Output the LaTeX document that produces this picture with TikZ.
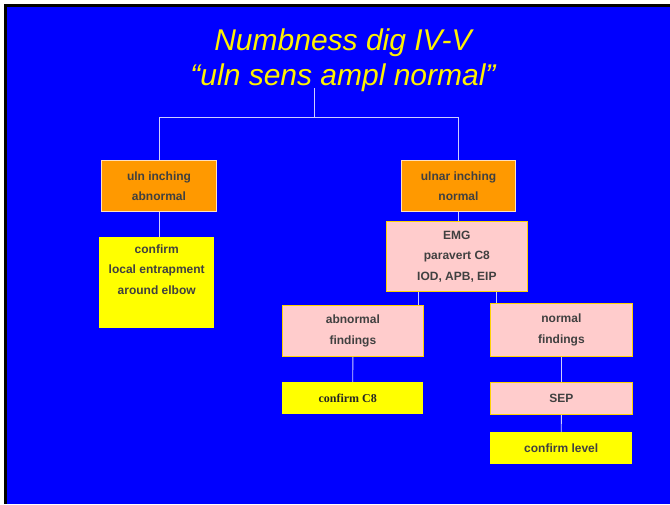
\documentclass[tikz,border=0pt]{standalone}
\usepackage{fontspec}
\setmainfont{Liberation Sans}
\newfontfamily\timesfont{Liberation Serif}
\usepackage{tikz}
\usetikzlibrary{calc}
\definecolor{slideblue}{RGB}{0,0,255}
\definecolor{boxorange}{RGB}{255,153,0}
\definecolor{boxpink}{RGB}{255,204,204}
\definecolor{boxyellow}{RGB}{255,255,0}
\definecolor{boxtext}{RGB}{64,64,64}
\definecolor{wirecol}{RGB}{205,205,255}

\begin{document}
\begin{tikzpicture}[x=1pt,y=-1pt,
    box/.style={anchor=north west, inner sep=0pt, align=center, text=boxtext,
      font=\fontsize{12}{20.5}\selectfont\bfseries},
    orangebox/.style={box, fill=boxorange, draw=orange!25!white, line width=1pt},
    pinkbox/.style={box, fill=boxpink, draw=yellow!70!orange, line width=.8pt},
    yellowbox/.style={box, fill=boxyellow},
    wire/.style={draw=wirecol, line width=.9pt}]
            \useasboundingbox (0,0) rectangle (670,504);
            \fill[white] (0,0) rectangle (670,504); %slide margin
            \fill[slideblue] (4,4) rectangle (670,504);
            \fill[black] (4,4) rectangle (670,7); %slide edge
            \fill[black] (4,4) rectangle (7,504);

            % title
            \node[align=center, text=yellow, font=\fontsize{30}{35}\selectfont\itshape] (title) at (343,60)
              {Numbness dig IV-V\\``uln sens ampl normal''};
            \coordinate (top) at (314,88);
            \coordinate (split) at (314,117);

            % first level
            \node[orangebox, minimum width=115pt, minimum height=51pt] (inchab) at (101,160) {uln inching\\abnormal};
            \node[orangebox, minimum width=114pt, minimum height=51pt] (inchno) at (401,160) {ulnar inching\\normal};

            % second level
            \node[yellowbox, minimum width=115pt, minimum height=91pt] (elbow) at (99,237)
              {confirm\\local entrapment\\around elbow\\\strut};
            \node[pinkbox, minimum width=141pt, minimum height=70pt] (emg) at (386,221)
              {EMG\\paravert C8\\IOD, APB, EIP};

            % third level
            \node[pinkbox, minimum width=141pt, minimum height=51pt] (abfind) at (282,305) {abnormal\\findings};
            \node[pinkbox, minimum width=142pt, minimum height=53pt] (nofind) at (490,303) {normal\\findings};

            % fourth level
            \node[yellowbox, minimum width=141pt, minimum height=32pt, font=\fontsize{12}{14}\selectfont\timesfont\bfseries, text=black!85]
              (cfc) at (282,382) {confirm C8\hspace{10pt}};
            \node[pinkbox, minimum width=142pt, minimum height=32pt] (sep) at (490,382) {SEP};
            \node[yellowbox, minimum width=142pt, minimum height=32pt] (cflevel) at (490,432) {confirm level};

            % connectors
            \draw[wire] (top) -- (split);
            \draw[wire] (inchab.north) -- (inchab.north |- split) -- (inchno.north |- split) -- (inchno.north);
            \draw[wire] (inchab.south) -- (inchab.south |- elbow.north);
            \draw[wire] (inchno.south) -- (inchno.south |- emg.north);
            \draw[wire] ([xshift=-5pt]abfind.north east) -- ([xshift=-5pt]abfind.north east |- emg.south);
            \draw[wire] ([xshift=6pt]nofind.north west) -- ([xshift=6pt]nofind.north west |- emg.south);
            \draw[wire] (abfind.south) -- (cfc.north);
            \draw[wire] (nofind.south) -- (sep.north);
            \draw[wire] (sep.south) -- (cflevel.north);
          \end{tikzpicture}
\end{document}
